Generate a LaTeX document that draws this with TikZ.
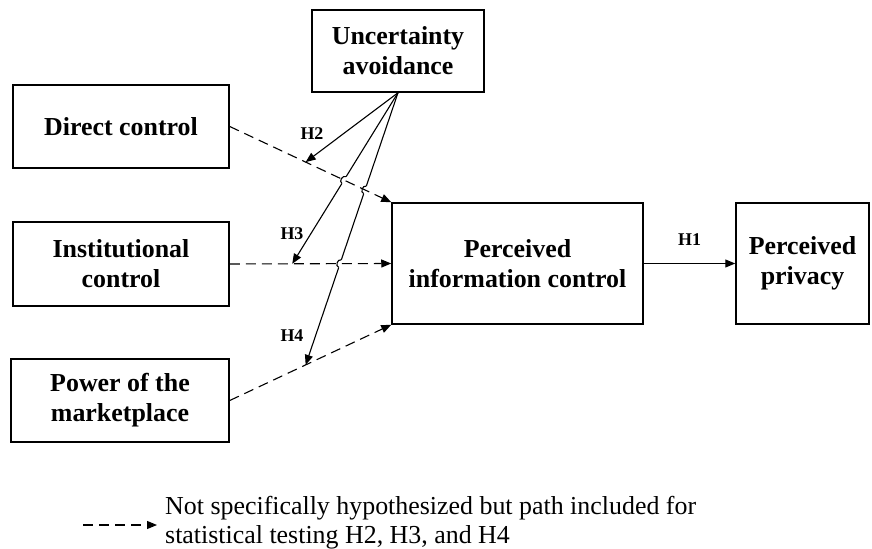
\documentclass[tikz,border=0pt]{standalone}
\usepackage{fontspec}
\setmainfont{Liberation Serif}
\usetikzlibrary{arrows.meta,positioning,calc,intersections}

\begin{document}
\begin{tikzpicture}[
    x=1bp, y=-1bp,
    box/.style={rectangle, draw=black, line width=1.5bp, align=center, inner sep=0pt, font=\bfseries\fontsize{26}{30}\selectfont},
    hyp/.style={font=\bfseries\fontsize{18}{20}\selectfont, inner sep=0pt},
    arrow/.style={-{Triangle[length=10bp,width=8bp]}, line width=1.1bp},
    dasharrow/.style={arrow, dash pattern=on 10bp off 6bp}
]
\useasboundingbox (0,0) rectangle (872,549);

% Left column - antecedents
\node[box, minimum width=216bp, minimum height=83bp] (direct) at (121,126.5) {Direct control};
\node[box, minimum width=216bp, minimum height=84bp] (inst) at (121,264) {Institutional\\control};
\node[box, minimum width=218bp, minimum height=83bp] (power) at (120,400.5) {Power of the\\marketplace};

% Moderator
\node[box, minimum width=172bp, minimum height=82bp] (uncert) at (398,51) {Uncertainty\\avoidance};

% Outcomes
\node[box, minimum width=251bp, minimum height=121bp] (pic) at (517.5,263.5) {Perceived\\information control};
\node[box, minimum width=133bp, minimum height=121bp] (privacy) at (802.5,263.5) {Perceived\\privacy};

% Moderating effects
\coordinate (m2) at ($(direct.east)!0.47!(pic.north west)$);
\coordinate (m3) at ($(inst.east)!0.387!(pic.west)$);
\coordinate (m4) at ($(power.east)!0.47!(pic.south west)$);
\draw[arrow] (uncert.south) -- (m2);
\draw[arrow, name path=h3] (uncert.south) -- (m3);
\draw[arrow, name path=h4] (uncert.south) -- (m4);
\path[name path=d1] (direct.east) -- (pic.north west);
\path[name path=d2] (inst.east) -- (pic.west);
\path[name intersections={of=h3 and d1, by=x1}];
\path[name intersections={of=h4 and d1, by=x2}];
\path[name intersections={of=h4 and d2, by=x3}];
\foreach \p in {x1,x2,x3}
  \draw[white, line width=3bp] ($(\p)!4bp!(uncert.south)$) -- ($(\p)!-4bp!(uncert.south)$);

% Paths
\draw[dasharrow] (direct.east) -- (pic.north west);
\draw[dasharrow] (inst.east) -- (pic.west);
\draw[dasharrow] (power.east) -- (pic.south west);
\draw[arrow] (pic.east) -- (privacy.west) node[hyp, midway, above=17bp] {H1};

% line hops
\foreach \p in {x1,x2,x3}
  \draw[line width=1.1bp] ($(\p)!4bp!(uncert.south)$)
    .. controls ($($(\p)!4bp!(uncert.south)$)!4bp!-90:(\p)$) and ($($(\p)!-4bp!(uncert.south)$)!4bp!90:(\p)$)
    .. ($(\p)!-4bp!(uncert.south)$);

\node[hyp] (h2) at (312,134) {H2};
\node[hyp] (h3) at (292,234) {H3};
\node[hyp] (h4) at (292,336) {H4};

% Legend
\coordinate (legs) at (83,525);
\coordinate (lege) at (157,525);
\draw[dasharrow] (legs) -- (lege);
\node[anchor=north west, align=left, inner sep=0pt, font=\fontsize{26}{29}\selectfont] (legtext) at (165,496)
  {Not specifically hypothesized but path included for\\statistical testing H2, H3, and H4};

\end{tikzpicture}
\end{document}
